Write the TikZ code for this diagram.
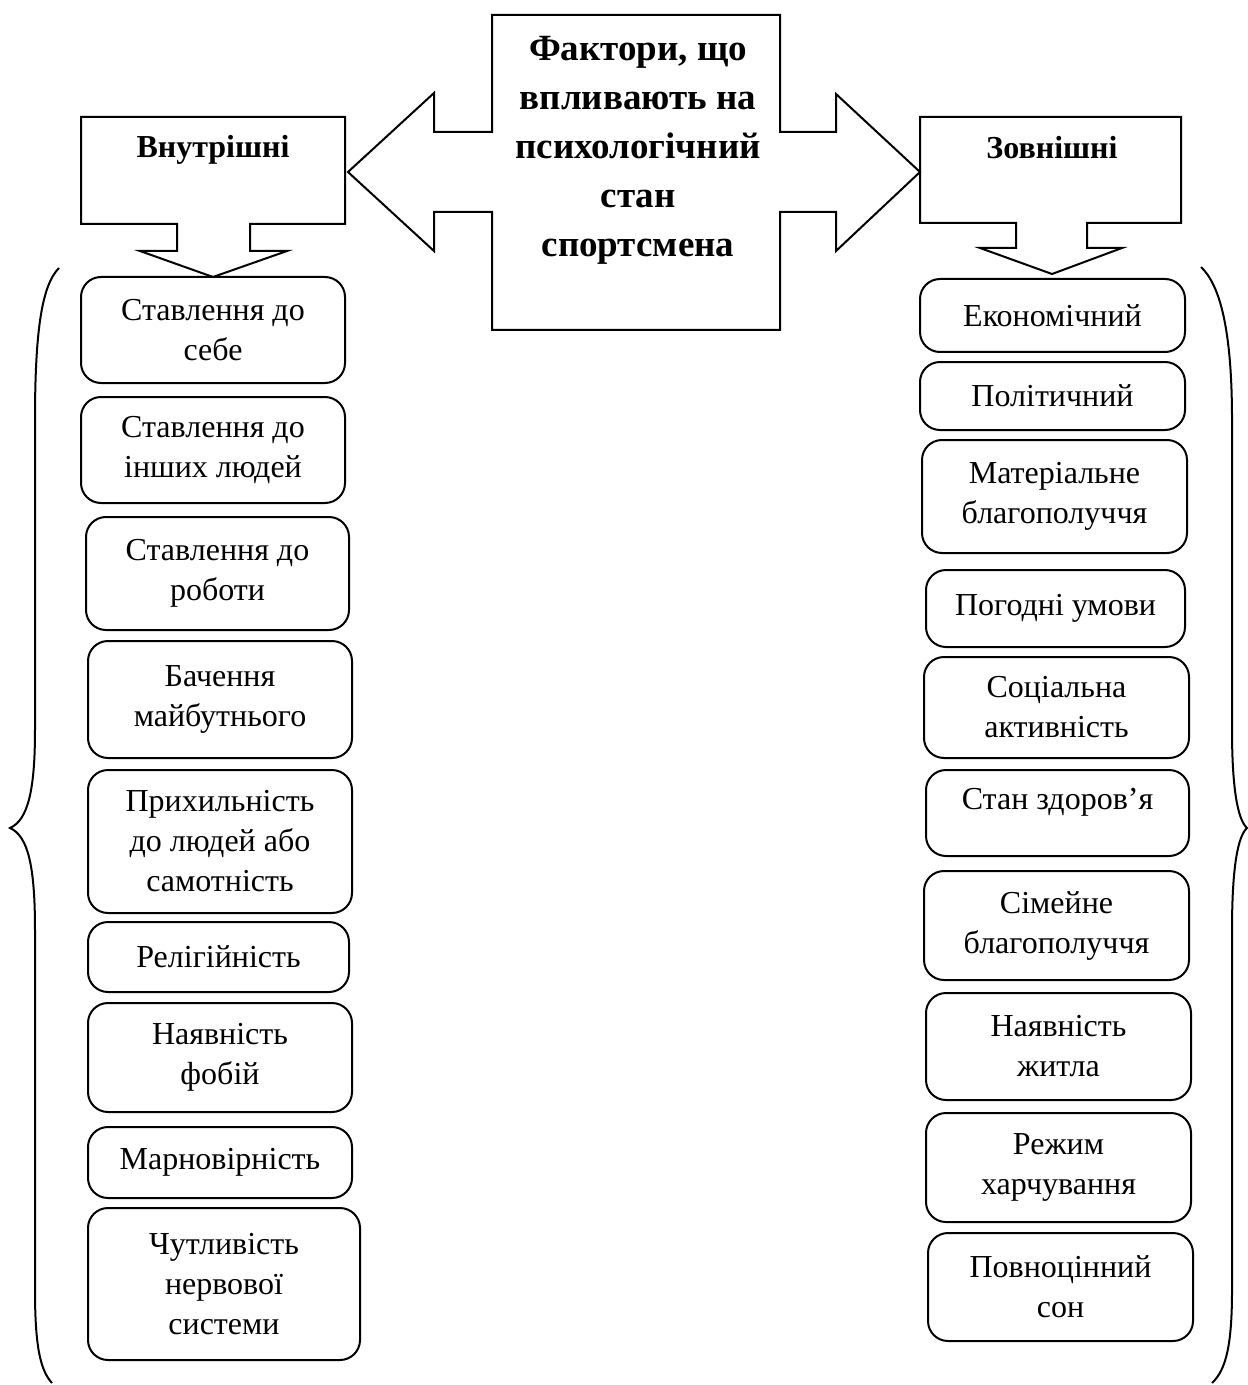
\documentclass[tikz,border=0pt]{standalone}
\usepackage{fontspec}
\setmainfont{Liberation Serif}
\begin{document}
\begin{tikzpicture}[x=0.5pt,y=-0.5pt,
  outline/.style={draw, line width=1pt, line join=miter},
  item/.style={draw, line width=1pt, rounded corners=10pt, align=center,
    inner sep=0pt, font=\fontsize{16}{20}\selectfont},
  head/.style={font=\bfseries\fontsize{16}{20}\selectfont, align=center},
  title/.style={font=\bfseries\fontsize{18.5}{24.5}\selectfont, align=center},
  brace/.style={draw, line width=1pt}]
\useasboundingbox (0,0) rectangle (1247,1385);

% central block with a double arrow pointing left and right
\draw[outline] (492,15) -- (780,15) -- (780,132) -- (836,132) -- (836,94)
  -- (920,172) -- (836,251) -- (836,212) -- (780,212) -- (780,330)
  -- (492,330) -- (492,212) -- (434,212) -- (434,251) -- (348,172)
  -- (434,93) -- (434,132) -- (492,132) -- cycle;
\node[title] (main) at (638,150) {Фактори, що\\впливають на\\психологічний\\стан\\спортсмена};

% left and right callouts with a down arrow
\draw[outline] (81,117) -- (345,117) -- (345,224) -- (250,224) -- (250,251)
  -- (287,251) -- (213,277) -- (140,251) -- (177,251) -- (177,224)
  -- (81,224) -- cycle;
\node[head] (inner) at (213,150) {Внутрішні};

\draw[outline] (920,117) -- (1181,117) -- (1181,223) -- (1087,223) -- (1087,248)
  -- (1122,248) -- (1052,274) -- (980,248) -- (1016,248) -- (1016,223)
  -- (920,223) -- cycle;
\node[head] (outer) at (1052,148) {Зовнішні};

% internal factors
\node[item, minimum width=132pt, minimum height=53pt] (l1) at (213,330) {Ставлення до\\себе};
\node[item, minimum width=132pt, minimum height=53pt] (l2) at (213,450) {Ставлення до\\інших людей};
\node[item, minimum width=131.5pt, minimum height=56.5pt] (l3) at (217.5,573.5) {Ставлення до\\роботи};
\node[item, minimum width=132pt, minimum height=58.5pt] (l4) at (220,699.5) {Бачення\\майбутнього};
\node[item, minimum width=132pt, minimum height=71.5pt] (l5) at (220,841.5) {Прихильність\\до людей або\\самотність};
\node[item, minimum width=130.5pt, minimum height=35pt] (l6) at (218.5,957) {Релігійність};
\node[item, minimum width=132pt, minimum height=54.5pt] (l7) at (220,1057.5) {Наявність\\фобій};
\node[item, minimum width=132pt, minimum height=35.5pt] (l8) at (220,1162.5) {Марновірність};
\node[item, minimum width=136pt, minimum height=76pt] (l9) at (224,1284) {Чутливість\\нервової\\системи};

% external factors
\node[item, minimum width=132.5pt, minimum height=36.5pt] (r1) at (1052.5,315.5) {Економічний};
\node[item, minimum width=132.5pt, minimum height=34pt] (r2) at (1052.5,396) {Політичний};
\node[item, minimum width=132.5pt, minimum height=56.5pt] (r3) at (1054.5,496.5) {Матеріальне\\благополуччя};
\node[item, minimum width=129.5pt, minimum height=38.5pt] (r4) at (1055.5,608.5) {Погодні умови};
\node[item, minimum width=132.5pt, minimum height=50.5pt] (r5) at (1056.5,707.5) {Соціальна\\активність};
\node[item, minimum width=131.5pt, minimum height=43pt, text depth=14pt] (r6) at (1057.5,813) {Стан здоров’я};
\node[item, minimum width=132.5pt, minimum height=54.5pt] (r7) at (1056.5,925.5) {Сімейне\\благополуччя};
\node[item, minimum width=132.5pt, minimum height=53.5pt] (r8) at (1058.5,1046.5) {Наявність\\житла};
\node[item, minimum width=132.5pt, minimum height=54.5pt] (r9) at (1058.5,1167.5) {Режим\\харчування};
\node[item, minimum width=132.5pt, minimum height=54pt] (r10) at (1060.5,1287) {Повноцінний\\сон};

% braces grouping each column
\draw[brace] (59,268) .. controls (42,285) and (35,330) .. (35,420)
  -- (35,730) .. controls (35,790) and (28,820) .. (10,828)
  .. controls (28,836) and (35,866) .. (35,930)
  -- (35,1290) .. controls (35,1345) and (40,1370) .. (52,1383);
\draw[brace] (1201,267) .. controls (1220,285) and (1232,330) .. (1232,420)
  -- (1232,730) .. controls (1232,790) and (1238,820) .. (1247,828)
  .. controls (1238,836) and (1232,866) .. (1232,930)
  -- (1232,1290) .. controls (1232,1345) and (1226,1370) .. (1212,1383);
\end{tikzpicture}
\end{document}
